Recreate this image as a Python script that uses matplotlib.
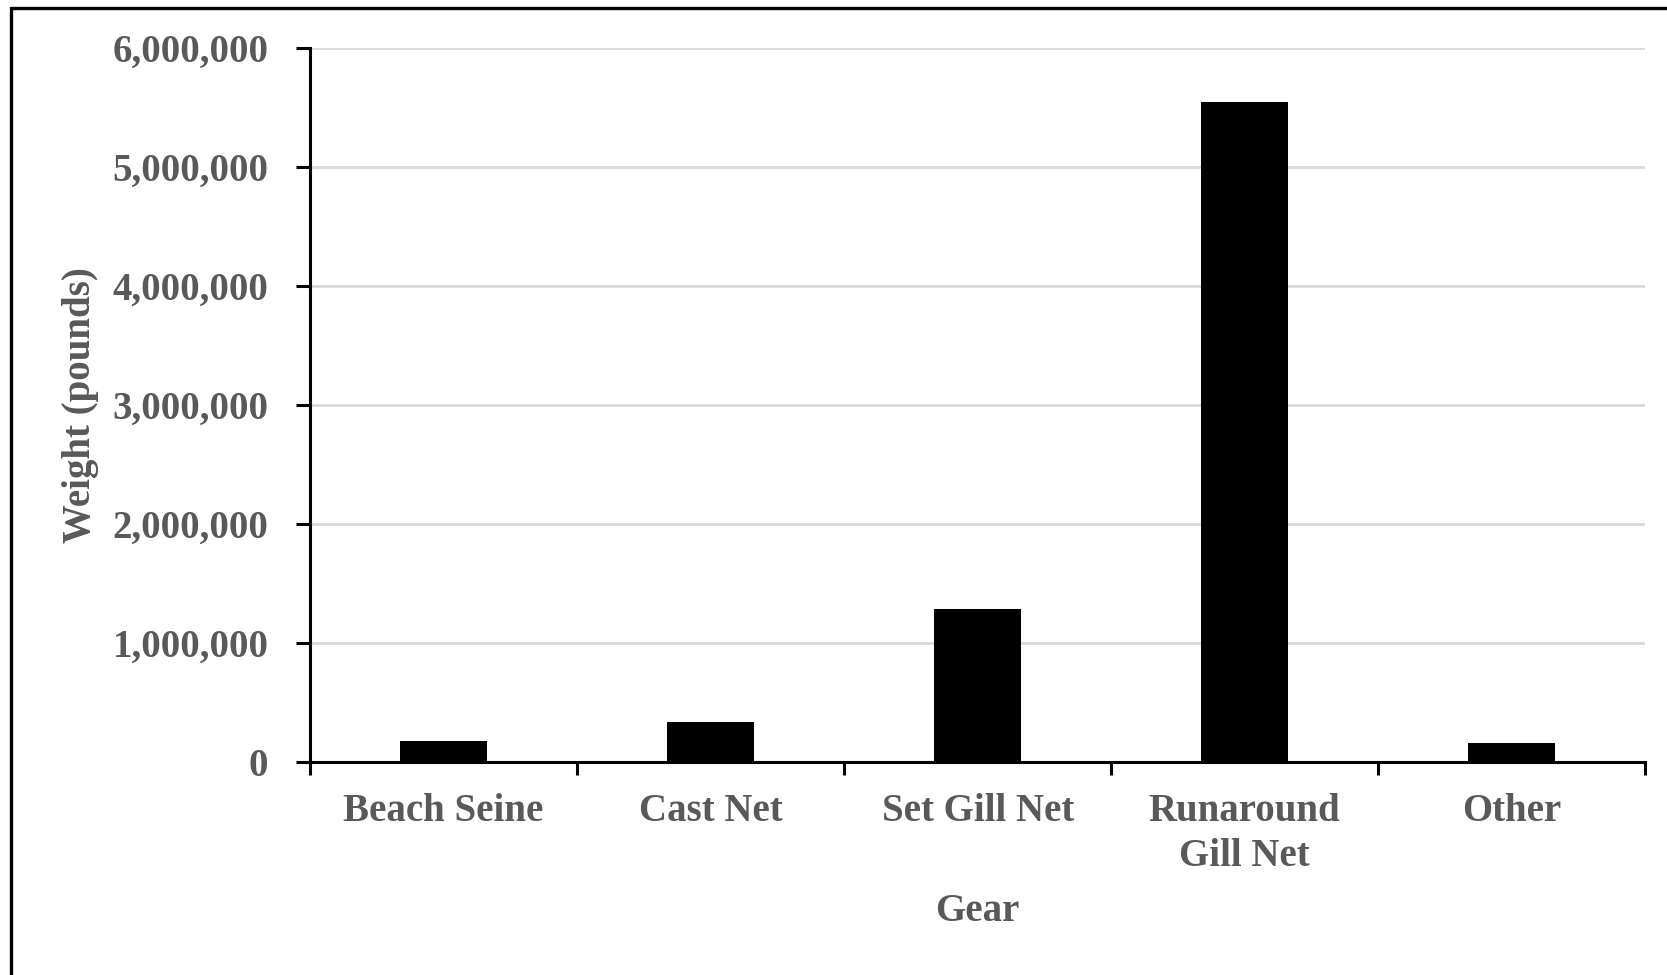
import matplotlib
import matplotlib.pyplot as plt
from matplotlib.patches import Rectangle
from matplotlib.ticker import FuncFormatter
import numpy as np

matplotlib.rcParams.update({'font.family': 'Liberation Serif',
                            'font.weight': 'bold',
                            'axes.labelweight': 'bold',
                            'font.size': 28})

gear = ["Beach Seine", "Cast Net", "Set Gill Net", "Runaround\nGill Net", "Other"]
weight = [175000, 340000, 1285000, 5550000, 160000]

gris = "#595959"

fig = plt.figure(figsize=(16.67, 9.75), dpi=100)
ax = fig.add_axes([0.186, 0.2185, 0.801, 0.7323])

x = np.arange(len(gear))
ax.bar(x, weight, width=0.326, color="black", zorder=3)

ax.set_xlim(-0.5, len(gear) - 0.5)
ax.set_ylim(0, 6000000)
ax.set_yticks(np.arange(0, 6000001, 1000000))
ax.yaxis.set_major_formatter(FuncFormatter(lambda v, p: f"{int(v):,}"))
ax.grid(axis="y", color="#d9d9d9", linewidth=2, zorder=0)

# ticks entre les categories, labels au centre
ax.set_xticks(np.arange(-0.5, len(gear)), minor=False)
ax.set_xticklabels([])
ax.set_xticks(x, minor=True)
ax.set_xticklabels(gear, minor=True, color=gris, linespacing=1.32)
ax.tick_params(axis="x", which="minor", length=0, pad=22)
ax.tick_params(axis="x", which="major", length=9, width=2.2, direction="out")
ax.tick_params(axis="y", length=10, width=2.2, pad=20, labelcolor=gris)

for s in ["top", "right"]:
    ax.spines[s].set_visible(False)
for s in ["left", "bottom"]:
    ax.spines[s].set_linewidth(2.2)

ax.set_ylabel("Weight (pounds)", color=gris)
ax.yaxis.set_label_coords(-0.172, 0.5)
ax.yaxis.label.set_va("center")
ax.set_xlabel("Gear", color=gris)
ax.xaxis.set_label_coords(0.5, -0.209)
ax.xaxis.label.set_va("center")

# cadre autour de la figure (coupe a droite et en bas)
fig.add_artist(Rectangle((10.5 / 1667, -0.1), 1.2, 1 - 7.5 / 975 + 0.1,
                         transform=fig.transFigure, fill=False,
                         edgecolor="black", linewidth=2.4))

plt.savefig("out.png", dpi=100)
